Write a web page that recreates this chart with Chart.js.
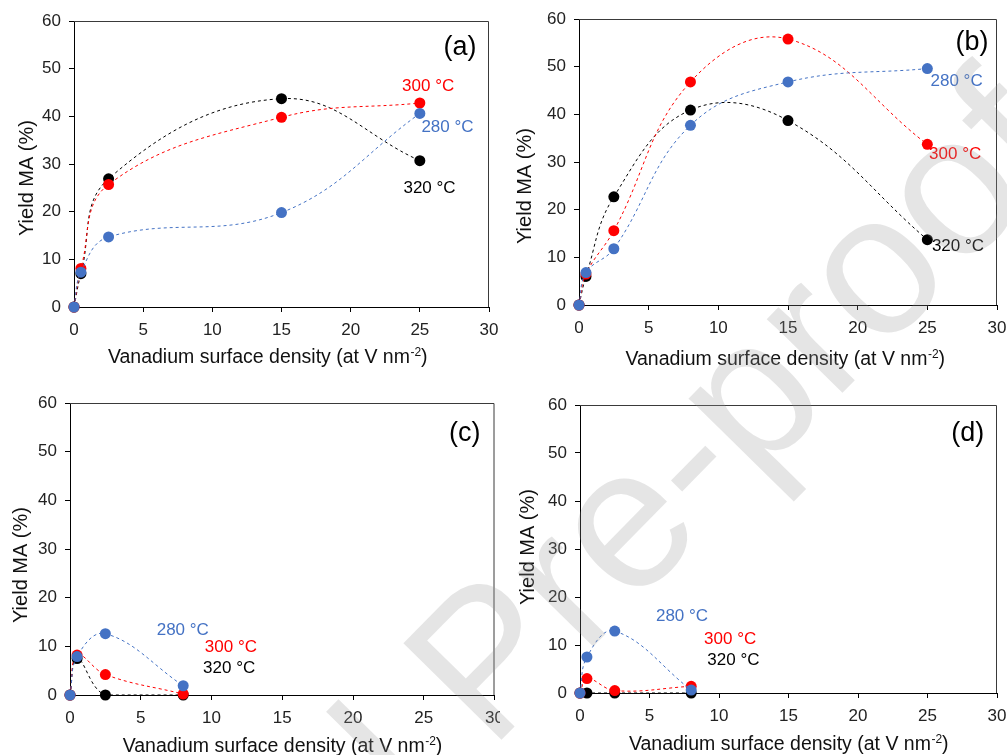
<!DOCTYPE html>
<html>
<head>
<meta charset="utf-8">
<script src="https://cdn.jsdelivr.net/npm/chart.js@4.4.0/dist/chart.umd.min.js"></script>
<style>
  html, body { margin: 0; padding: 0; background: #fff; }
  #wrap { position: relative; width: 1007px; height: 755px; overflow: hidden; }
  canvas { position: absolute; }
  #wm { pointer-events: none; z-index: 5; }
</style>
</head>
<body>
<div id="wrap">
  <canvas id="pa" width="500" height="380" style="left:0;top:0"></canvas>
  <canvas id="pb" width="507" height="380" style="left:500px;top:0"></canvas>
  <canvas id="pc" width="500" height="370" style="left:0;top:385px"></canvas>
  <canvas id="pd" width="507" height="370" style="left:500px;top:385px"></canvas>
  <canvas id="wm" width="1007" height="755" style="left:0;top:0"></canvas>
</div>
<script>
// data (yield MA, %)
var seriesNames = ['280 °C', '300 °C', '320 °C'];
var xTicks = [0, 5, 10, 15, 20, 25, 30];
var yTicks = [0, 10, 20, 30, 40, 50, 60];

var xA = [0, 0.5, 2.5, 15, 25];
var a280 = [0, 7.3, 14.7, 19.8, 40.6];
var a300 = [0, 8.1, 25.7, 39.8, 42.8];
var a320 = [0, 7.0, 26.9, 43.7, 30.7];

var xB = [0, 0.5, 2.5, 8, 15, 25];
var b280 = [0, 6.8, 11.8, 37.7, 46.8, 49.6];
var b300 = [0, 6.5, 15.6, 46.8, 55.8, 33.7];
var b320 = [0, 6.0, 22.7, 40.9, 38.7, 13.7];

var xC = [0, 0.5, 2.5, 8];
var c280 = [0, 7.9, 12.6, 1.9];
var c300 = [0, 8.2, 4.2, 0.2];
var c320 = [0, 7.5, 0, 0];

var xD = [0, 0.5, 2.5, 8];
var d280 = [0, 7.5, 12.9, 0.6];
var d300 = [0, 3.0, 0.5, 1.4];
var d320 = [0, 0, 0, 0];

var colors = ['#4472C4', '#FF0000', '#000000'];
var FONT = '"Liberation Sans", Arial, sans-serif';

function pts(xs, ys) {
  return xs.map(function (x, i) { return { x: x, y: ys[i] }; });
}

// decorations: frame, series labels, panel letter, axis titles
function decor(p) {
  return {
    id: 'decor',
    afterDraw: function (chart) {
      var ctx = chart.ctx, a = chart.chartArea;
      var xs = chart.scales.x, ys = chart.scales.y;
      ctx.save();
      ctx.strokeStyle = '#3a3a3a';
      ctx.lineWidth = 1;
      ctx.beginPath();
      ctx.moveTo(a.left, a.top + 0.5);
      ctx.lineTo(a.right - 0.5, a.top + 0.5);
      ctx.lineTo(a.right - 0.5, a.bottom);
      ctx.stroke();

      ctx.textAlign = 'center';
      ctx.textBaseline = 'middle';
      ctx.font = '17px ' + FONT;
      for (var i = 0; i < seriesNames.length; i++) {
        ctx.fillStyle = colors[i];
        ctx.fillText(seriesNames[i], xs.getPixelForValue(p.lab[i][0]), ys.getPixelForValue(p.lab[i][1]));
      }
      ctx.fillStyle = '#000';
      ctx.font = '27px ' + FONT;
      ctx.fillText(p.tag, xs.getPixelForValue(p.tagAt[0]), ys.getPixelForValue(p.tagAt[1]));

      // x title with superscript
      ctx.fillStyle = '#111';
      var main = 'Vanadium surface density (at V nm', sup = '-2', end = ')';
      ctx.font = '19.5px ' + FONT;
      var w1 = ctx.measureText(main).width, w3 = ctx.measureText(end).width;
      ctx.font = '12px ' + FONT;
      var w2 = ctx.measureText(sup).width;
      var cx = (a.left + a.right) / 2 + p.xtDx;
      var base = a.bottom + p.xtDy + 7;
      var x0 = cx - (w1 + w2 + w3) / 2;
      ctx.textAlign = 'left';
      ctx.textBaseline = 'alphabetic';
      ctx.font = '19.5px ' + FONT;
      ctx.fillText(main, x0, base);
      ctx.fillText(end, x0 + w1 + w2 + 0.5, base);
      ctx.font = '12px ' + FONT;
      ctx.fillText(sup, x0 + w1 + 0.5, base - 7);

      // y title
      ctx.translate(p.ytX, (a.top + a.bottom) / 2 + p.ytDy);
      ctx.rotate(-Math.PI / 2);
      ctx.textAlign = 'center';
      ctx.textBaseline = 'middle';
      ctx.font = '20px ' + FONT;
      ctx.fillText('Yield MA (%)', 0, 0);
      ctx.restore();
    }
  };
}

function makeChart(id, xs, series, p) {
  var canvas = document.getElementById(id);
  var ds = series.map(function (s, i) {
    return {
      label: seriesNames[i],
      data: pts(xs, s),
      borderColor: colors[i],
      backgroundColor: colors[i],
      pointBackgroundColor: colors[i],
      pointBorderWidth: 0,
      pointRadius: 5.5,
      borderWidth: 1,
      borderDash: [3, 3],
      tension: 0.4,
      clip: false
    };
  });
  var tickFont = { family: FONT, size: 17 };
  return new Chart(canvas, {
    type: 'line',
    data: { datasets: ds },
    options: {
      responsive: false,
      animation: false,
      events: [],
      layout: {
        padding: {
          left: 0,
          top: p.top,
          right: canvas.width - p.right,
          bottom: canvas.height - p.bottom - 40
        }
      },
      plugins: { legend: { display: false }, tooltip: { enabled: false } },
      scales: {
        x: {
          type: 'linear', min: 0, max: 30,
          afterBuildTicks: function (s) { s.ticks = xTicks.map(function (v) { return { value: v }; }); },
          afterFit: function (s) { s.height = 40; s.paddingLeft = 0; s.paddingRight = 0; },
          ticks: { color: '#222', font: tickFont, padding: 8, maxRotation: 0 },
          grid: { drawOnChartArea: false, tickLength: 5, color: '#000' },
          border: { color: '#000' }
        },
        y: {
          min: 0, max: 60,
          afterBuildTicks: function (s) { s.ticks = yTicks.map(function (v) { return { value: v }; }); },
          afterFit: function (s) { s.width = p.left; s.paddingTop = 0; s.paddingBottom = 0; },
          ticks: { color: '#222', font: tickFont, padding: 8 },
          grid: { drawOnChartArea: false, tickLength: 5, color: '#000' },
          border: { color: '#000' }
        }
      }
    },
    plugins: [decor(p)]
  });
}

makeChart('pa', xA, [a280, a300, a320], {
  left: 74, right: 489, top: 21, bottom: 307, tag: '(a)', tagAt: [27.9, 54.4],
  lab: [[27.0, 37.6], [25.6, 46.4], [25.7, 24.8]],
  xtDx: -14, xtDy: 49, ytX: 27, ytDy: 14
});
makeChart('pb', xB, [b280, b300, b320], {
  left: 79, right: 497, top: 19, bottom: 305, tag: '(b)', tagAt: [28.2, 55.0],
  lab: [[27.1, 47.0], [27.0, 31.7], [27.2, 12.3]],
  xtDx: -3, xtDy: 53, ytX: 25, ytDy: 24
});
makeChart('pc', xC, [c280, c300, c320], {
  left: 70, right: 497, top: 18, bottom: 310, tag: '(c)', tagAt: [27.9, 53.8],
  lab: [[7.97, 13.3], [11.37, 9.86], [11.25, 5.48]],
  xtDx: 0, xtDy: 50, ytX: 21, ytDy: 16
});
makeChart('pd', xD, [d280, d300, d320], {
  left: 80, right: 497, top: 20, bottom: 308, tag: '(d)', tagAt: [27.9, 54.0],
  lab: [[7.34, 15.9], [10.8, 11.1], [11.04, 6.9]],
  xtDx: 0, xtDy: 50, ytX: 28, ytDy: -2
});

// "Journal Pre-proof" watermark, anchored on the hyphen
var wm = document.getElementById('wm').getContext('2d');
var F = 200;
wm.font = F + 'px ' + FONT;
var pre = wm.measureText('Journal Pre').width + wm.measureText('-').width / 2;
wm.translate(693, 468);
wm.rotate(-45.5 * Math.PI / 180);
wm.fillStyle = 'rgba(150,150,150,0.25)';
wm.fillText('Journal Pre-proof', -pre, 0.27 * F);
</script>
</body>
</html>
